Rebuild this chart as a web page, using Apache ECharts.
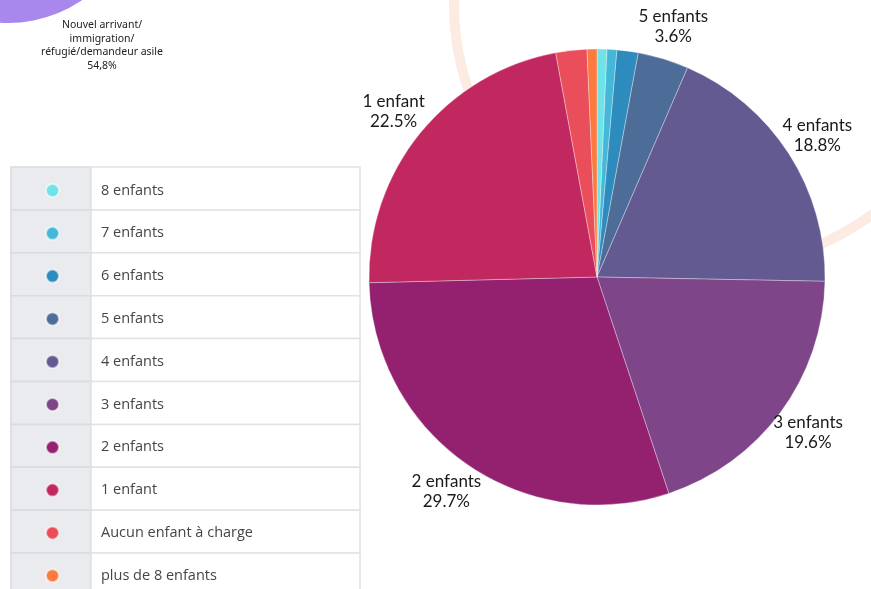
<!DOCTYPE html>
<html>
<head>
<meta charset="utf-8">
<script src="https://cdn.jsdelivr.net/npm/echarts@6/dist/echarts.min.js"></script>
<style>
  html, body { margin: 0; padding: 0; background: #ffffff; }
  #chart { width: 871px; height: 589px; }
</style>
</head>
<body>
<div id="chart"></div>
<script>
// ---- Data ----
const categories = ['8 enfants', '7 enfants', '6 enfants', '5 enfants', '4 enfants',
  '3 enfants', '2 enfants', '1 enfant', 'Aucun enfant à charge', 'plus de 8 enfants'];
const percentages = [0.7, 0.7, 1.5, 3.6, 18.8, 19.6, 29.7, 22.5, 2.2, 0.7];
const sliceColors = ['#6ee3e8', '#45b8d8', '#2e8bbd', '#4d6d98', '#625a91',
  '#7e4589', '#93216f', '#c0285f', '#ea4e5a', '#fb7a40'];
const labelledSlices = ['5 enfants', '4 enfants', '3 enfants', '2 enfants', '1 enfant'];
const noteLines = ['Nouvel arrivant/', 'immigration/', 'réfugié/demandeur asile', '54,8%'];

// ---- Chart ----
const chart = echarts.init(document.getElementById('chart'), null, { renderer: 'canvas' });

const pieCenter = [597, 277];
const pieRadius = 228;

const mainData = categories.map((name, i) => ({
  name: name,
  value: percentages[i],
  itemStyle: { color: sliceColors[i] }
}));

const labelData = categories.map((name, i) => ({
  name: name,
  value: percentages[i],
  label: { show: labelledSlices.indexOf(name) >= 0 }
}));

// Table behind the legend
const rowTop = 167;
const rowH = 42.9;
const tableEls = [];
categories.forEach((c, i) => {
  const y = rowTop + i * rowH;
  tableEls.push({
    type: 'rect', z: 0,
    shape: { x: 11, y: y, width: 80, height: rowH },
    style: { fill: '#e9ebee', stroke: '#d8dbe0', lineWidth: 1.5 }
  });
  tableEls.push({
    type: 'rect', z: 0,
    shape: { x: 91, y: y, width: 269, height: rowH },
    style: { fill: '#ffffff', stroke: '#dfe2e6', lineWidth: 1.5 }
  });
});

const option = {
  backgroundColor: '#ffffff',
  animation: false,
  graphic: [
    // decorative purple disc (top-left)
    { type: 'circle', z: 0, shape: { cx: 8, cy: -108, r: 131 }, style: { fill: '#a888ec' } },
    // decorative peach ring behind the pie
    { type: 'circle', z: 0, shape: { cx: 716, cy: 4, r: 262 },
      style: { fill: 'none', stroke: '#fbebe3', lineWidth: 10 } },
    {
      type: 'text', z: 1,
      x: 102, y: 18,
      style: {
        text: noteLines.join('\n'),
        fill: '#222222',
        font: '10.5px "Noto Sans", sans-serif',
        lineHeight: 13.8,
        align: 'center',
        verticalAlign: 'top'
      }
    }
  ].concat(tableEls),
  legend: {
    orient: 'vertical',
    left: 45,
    top: 183,
    height: 560,
    padding: 0,
    itemWidth: 13,
    itemHeight: 13,
    itemGap: rowH - 15.1,
    icon: 'circle',
    selectedMode: false,
    data: categories,
    textStyle: {
      fontFamily: 'Open Sans',
      fontSize: 14.5,
      lineHeight: 13,
      color: '#454545',
      padding: [0, 0, 0, 37]
    }
  },
  series: [
    {
      type: 'pie',
      name: 'main',
      center: pieCenter,
      radius: pieRadius,
      startAngle: 90,
      clockwise: true,
      label: { show: false },
      labelLine: { show: false },
      itemStyle: { borderColor: 'rgba(255,255,255,0.55)', borderWidth: 0.6 },
      emphasis: { disabled: true },
      data: mainData
    },
    {
      type: 'pie',
      name: 'labels',
      silent: true,
      legendHoverLink: false,
      center: pieCenter,
      radius: [pieRadius, pieRadius + 62],
      startAngle: 90,
      clockwise: true,
      itemStyle: { color: 'rgba(0,0,0,0)' },
      labelLine: { show: false },
      label: {
        position: 'inside',
        rotate: 0,
        color: '#1a1a1a',
        fontFamily: 'Lato',
        fontSize: 17,
        lineHeight: 20,
        formatter: p => p.name + '\n' + p.value.toFixed(1) + '%'
      },
      emphasis: { disabled: true },
      data: labelData
    }
  ]
};

chart.setOption(option);
</script>
</body>
</html>
